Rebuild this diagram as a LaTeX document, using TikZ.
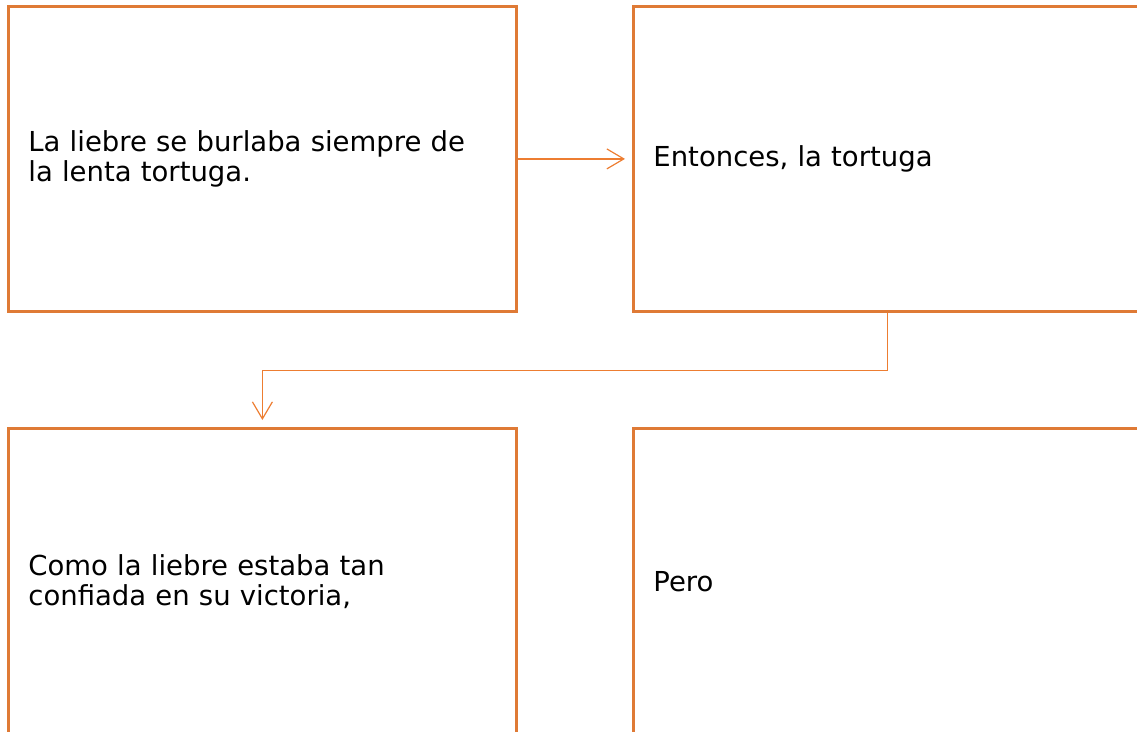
\documentclass[tikz,border=0pt]{standalone}
\usepackage{fontspec}
\setmainfont{DejaVu Sans}
\usetikzlibrary{arrows.meta,positioning}
\definecolor{boxorange}{RGB}{223,122,53}
\definecolor{lineorange}{RGB}{237,125,49}
\tikzset{
  card/.style={draw=boxorange, line width=2.8pt, minimum width=508pt, minimum height=305pt,
    inner xsep=20pt, text width=468pt, align=left, anchor=north west,
    font=\fontsize{27.5pt}{30pt}\selectfont},
  conn/.style={draw=lineorange, line width=1.2pt,
    -{Straight Barb[length=17pt,width=20pt,line width=1.2pt]}, shorten >=7pt}
}
\begin{document}
\begin{tikzpicture}[x=1pt,y=-1pt]
\useasboundingbox (0,0) rectangle (1137,731);
\clip (0,0) rectangle (1137,731);
\node[card] (tl) at (7,5) {La liebre se burlaba siempre de\\la lenta tortuga.};
\node[card] (tr) at (632,5) {Entonces, la tortuga};
\node[card, minimum height=306pt] (bl) at (7,427) {Como la liebre estaba tan\\confiada en su victoria,};
\node[card, minimum height=306pt] (br) at (632,427) {Pero};
\draw[conn] (tl.east) -- (tr.west);
\draw[conn] (tr.south) -- ++(0,58) -| (bl.north);
\end{tikzpicture}
\end{document}
